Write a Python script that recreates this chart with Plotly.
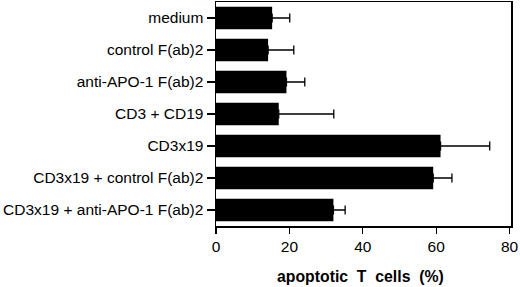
import plotly.graph_objects as go

categories = [
    "medium",
    "control F(ab)2",
    "anti-APO-1 F(ab)2",
    "CD3 + CD19",
    "CD3x19",
    "CD3x19 + control F(ab)2",
    "CD3x19 + anti-APO-1 F(ab)2",
]
values = [15.3, 14.2, 19.2, 17.1, 61.2, 59.2, 32.0]
errors = [4.8, 7.0, 5.0, 15.0, 13.4, 5.1, 3.2]
x_ticks = [0, 20, 40, 60, 80]
x_title = "apoptotic\u00a0\u00a0T\u00a0\u00a0cells\u00a0\u00a0(%)"

font = "Liberation Sans, Arial, Helvetica, sans-serif"

fig = go.Figure(
    go.Bar(
        x=values,
        y=categories,
        orientation="h",
        width=0.7,
        marker=dict(color="black", line=dict(width=0)),
        error_x=dict(
            type="data",
            array=errors,
            arrayminus=[0] * len(errors),
            symmetric=False,
            color="black",
            thickness=1.3,
            width=4.5,
        ),
    )
)

fig.update_layout(
    width=520,
    height=287,
    margin=dict(l=216, r=9, t=2, b=61, autoexpand=False),
    paper_bgcolor="white",
    plot_bgcolor="white",
    showlegend=False,
    font=dict(family=font, size=15.5, color="black"),
    xaxis=dict(
        range=[0, 80.4],
        tickvals=x_ticks,
        ticks="outside",
        ticklen=6,
        tickwidth=1.3,
        tickcolor="black",
        showline=True,
        linecolor="black",
        linewidth=1.5,
        mirror=True,
        showgrid=False,
        zeroline=False,
        automargin=False,
    ),
    yaxis=dict(
        autorange=False,
        range=[6.5, -0.5],
        ticks="outside",
        ticklen=8,
        tickwidth=1.3,
        tickcolor="black",
        showline=True,
        linecolor="black",
        linewidth=1.5,
        mirror=True,
        showgrid=False,
        zeroline=False,
        automargin=False,
    ),
    annotations=[
        dict(
            text="<b>" + x_title + "</b>",
            xref="paper",
            yref="paper",
            x=0.49,
            y=-0.225,
            xanchor="center",
            yanchor="middle",
            showarrow=False,
            font=dict(size=15.8),
        )
    ],
)

fig.write_html(
    "out.html",
    config={"displayModeBar": False, "staticPlot": True},
    post_script="document.body.style.margin='0';document.body.style.overflow='hidden';",
)
